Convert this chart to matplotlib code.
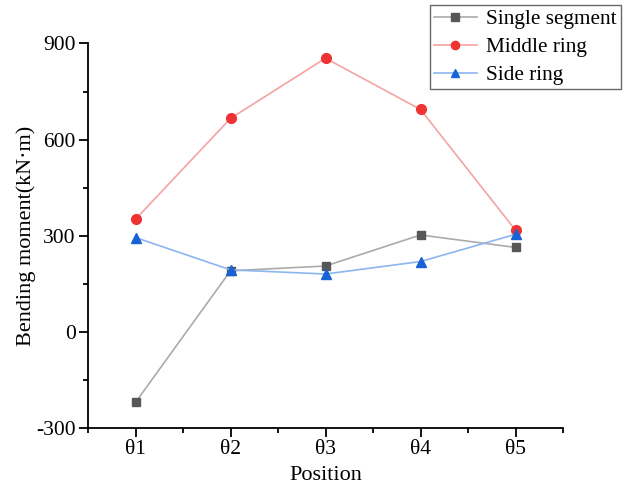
import matplotlib
matplotlib.use("Agg")
import matplotlib.pyplot as plt
from matplotlib.ticker import MultipleLocator

plt.rcParams['font.family'] = ['Liberation Serif', 'DejaVu Serif']
plt.rcParams['axes.unicode_minus'] = False

positions = ["θ1", "θ2", "θ3", "θ4", "θ5"]
single_segment = [-221, 190, 205, 302, 263]
middle_ring = [351, 666, 854, 694, 317]
side_ring = [294, 193, 180, 219, 304]

fig = plt.figure(figsize=(6.3, 4.94), dpi=100)
ax = fig.add_axes([88/630, 1-427.7/494, (563-88)/630, (427.7-43.5)/494])

x = list(range(1, len(positions)+1))
ax.plot(x, single_segment, color='#ababab', lw=1.2, marker='s', ms=6,
        mfc='#575757', mec='#575757', label='Single segment')
ax.plot(x, middle_ring, color='#f5a3a3', lw=1.2, marker='o', ms=7,
        mfc='#ee3333', mec='#ee3333', label='Middle ring')
ax.plot(x, side_ring, color='#8cb6f0', lw=1.2, marker='^', ms=7,
        mfc='#1763d6', mec='#1763d6', label='Side ring')

ax.set_xlim(0.5, 5.5)
ax.set_ylim(-300, 900)
ax.set_xticks(x)
ax.set_xticklabels(positions)
ax.xaxis.set_minor_locator(MultipleLocator(0.5))
ax.yaxis.set_major_locator(MultipleLocator(300))
ax.yaxis.set_minor_locator(MultipleLocator(150))
for s in ['top', 'right']:
    ax.spines[s].set_visible(False)
for s in ['left', 'bottom']:
    ax.spines[s].set_linewidth(1.3)
ax.tick_params(axis='both', which='major', direction='out', length=6.5, width=1.3,
               labelsize=15.5, pad=2.5)
ax.tick_params(axis='both', which='minor', direction='out', length=3.5, width=1.3)

ax.set_xlabel('Position', fontsize=16, labelpad=5)
ax.set_ylabel('Bending moment(kN·m)', fontsize=16, labelpad=0)

leg = fig.legend(loc='upper right', bbox_to_anchor=(621/630, 1-5/494), fontsize=15.3,
                 frameon=True, fancybox=False, edgecolor='#444444', borderpad=0.2,
                 labelspacing=0.38, handlelength=2.0, handletextpad=0.45, borderaxespad=0,
                 markerscale=0.85)
leg.get_frame().set_linewidth(1.0)

fig.savefig('out.png', dpi=100)
